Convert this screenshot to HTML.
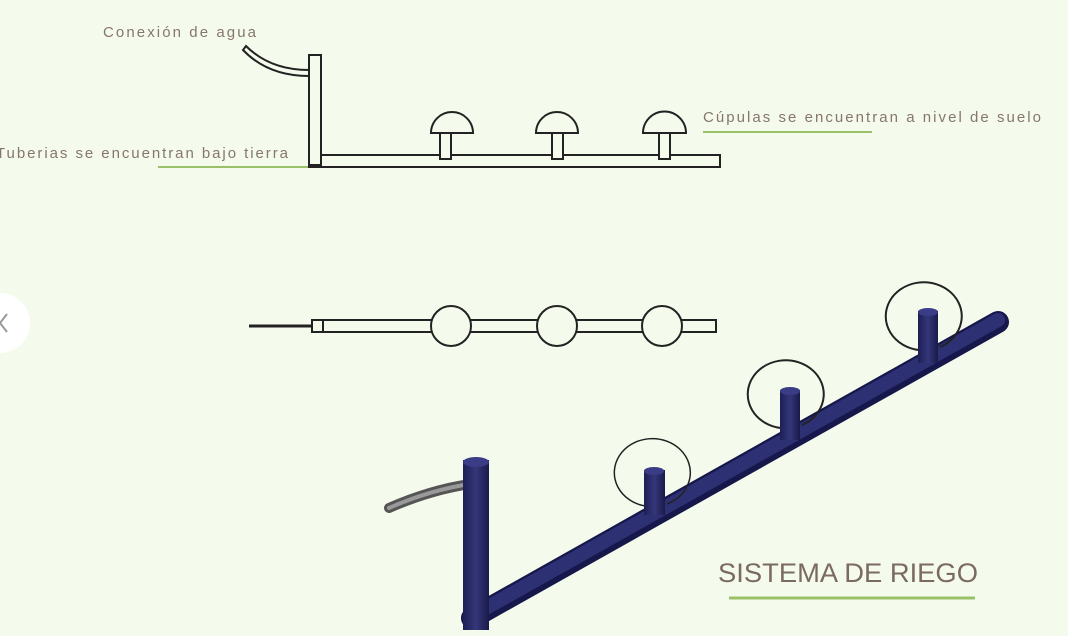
<!DOCTYPE html>
<html><head><meta charset="utf-8"><style>
html,body{margin:0;padding:0;background:#f5fbec;}
svg{display:block;font-family:"Liberation Sans",sans-serif;}
</style></head><body>
<svg width="1068" height="636" viewBox="0 0 1068 636">
<defs>
<linearGradient id="pipe" x1="0" y1="0" x2="1" y2="0"><stop offset="0" stop-color="#1e1f55"/><stop offset="0.5" stop-color="#34367a"/><stop offset="1" stop-color="#1a1b4a"/></linearGradient>
</defs>
<rect width="1068" height="636" fill="#f5fbec"/>
<text x="103" y="37" font-size="15" fill="#86766c" textLength="153" lengthAdjust="spacing">Conexión de agua</text>
<text x="-4" y="158" font-size="15" fill="#86766c" textLength="292" lengthAdjust="spacing">Tuberias se encuentran bajo tierra</text>
<line x1="158" y1="167" x2="345" y2="167" stroke="#9ac06a" stroke-width="2"/>
<text x="703" y="122" font-size="15" fill="#86766c" textLength="338" lengthAdjust="spacing">Cúpulas se encuentran a nivel de suelo</text>
<line x1="703" y1="132" x2="872" y2="132" stroke="#9ac06a" stroke-width="2"/>
<g fill="#f5fbec" stroke="#222" stroke-width="2">
<path d="M246 46 Q270 70 309 70 L309 76 Q268 76 243 50 Z"/>
<rect x="309" y="155" width="411" height="12"/>
<rect x="309" y="55" width="12" height="110"/>
<g><rect x="440" y="133" width="11" height="26"/><path d="M431 133 A21 21 0 0 1 473 133 Z"/></g>
<g><rect x="552" y="133" width="11" height="26"/><path d="M536 133 A21 21 0 0 1 578 133 Z"/></g>
<g><rect x="659" y="133" width="11" height="26"/><path d="M643 133 A21 21 0 0 1 686 133 Z"/></g>
</g>
<g fill="#f5fbec" stroke="#222" stroke-width="2">
<line x1="249" y1="326" x2="312" y2="326" stroke-width="3"/>
<rect x="323" y="320" width="393" height="12"/>
<rect x="312" y="320" width="11" height="12"/>
<circle cx="451" cy="326" r="20"/>
<circle cx="557" cy="326" r="20"/>
<circle cx="662" cy="326" r="20"/>
</g>
<g>
<path d="M389 508 Q430 490 470 484" stroke="#555" stroke-width="10" fill="none" stroke-linecap="round"/>
<path d="M389 508 Q430 490 470 484" stroke="#999" stroke-width="4" fill="none" stroke-linecap="round"/>
<line x1="472" y1="618" x2="998" y2="322" stroke="#16174a" stroke-width="22" stroke-linecap="round"/>
<line x1="472" y1="616" x2="998" y2="320" stroke="#2e3074" stroke-width="14" stroke-linecap="round"/>
<rect x="463" y="460" width="26" height="170" fill="url(#pipe)"/>
<ellipse cx="476" cy="462" rx="13" ry="5" fill="#3a3c85"/>
<g><path d="M645 506 A38 34 0 1 1 667 504" fill="none" stroke="#222" stroke-width="1.5"/><rect x="644" y="470" width="21" height="45" fill="url(#pipe)"/><ellipse cx="654" cy="471" rx="10" ry="4" fill="#3a3c85"/></g>
<g><path d="M781 428 A38 34 0 1 1 802 425" fill="none" stroke="#222" stroke-width="2"/><rect x="780" y="390" width="20" height="50" fill="url(#pipe)"/><ellipse cx="790" cy="391" rx="10" ry="4" fill="#3a3c85"/></g>
<g><path d="M919 350 A38 34 0 1 1 940 347" fill="none" stroke="#222" stroke-width="2"/><rect x="918" y="311" width="20" height="52" fill="url(#pipe)"/><ellipse cx="928" cy="312" rx="10" ry="4" fill="#3a3c85"/></g>
</g>
<text x="718" y="582" font-size="27" fill="#7a6a60" textLength="260" lengthAdjust="spacingAndGlyphs">SISTEMA DE RIEGO</text>
<line x1="729" y1="598" x2="975" y2="598" stroke="#9ac06a" stroke-width="3"/>
<g>
<circle cx="0" cy="323" r="30" fill="#ffffff"/>
<path d="M7 314 L0 323 L7 332" fill="none" stroke="#999" stroke-width="2"/>
</g>
</svg>
</body></html>
